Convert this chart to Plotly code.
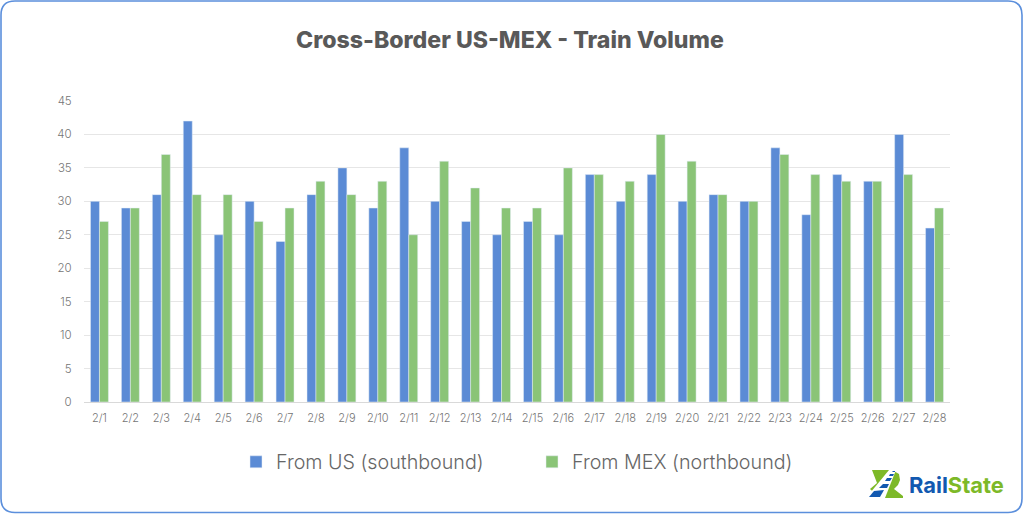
import plotly.graph_objects as go

days = [f"2/{d}" for d in range(1, 29)]
from_us = [30,29,31,42,25,30,24,31,35,29,38,30,27,25,27,25,34,30,34,30,31,30,38,28,34,33,40,26]
from_mex = [27,29,37,31,31,27,29,33,31,33,25,36,32,29,29,35,34,33,40,36,31,30,37,34,33,33,34,29]
y_ticks = [0,5,10,15,20,25,30,35,40,45]

W, H = 1024, 514
def px(x): return x / W
def py(y): return 1 - y / H
BLUE = "#5B8BD5"
GREEN = "#8AC477"
def poly(points, color):
    path = "M" + " L".join(f"{px(x):.5f},{py(y):.5f}" for x, y in points) + " Z"
    return dict(type="path", xref="paper", yref="paper", path=path,
                fillcolor=color, line_width=0, layer="above")

def rounded(x0, y0, x1, y1, r):
    return (f"M{px(x0+r):.5f},{py(y0):.5f} L{px(x1-r):.5f},{py(y0):.5f} "
            f"Q{px(x1):.5f},{py(y0):.5f} {px(x1):.5f},{py(y0+r):.5f} "
            f"L{px(x1):.5f},{py(y1-r):.5f} Q{px(x1):.5f},{py(y1):.5f} {px(x1-r):.5f},{py(y1):.5f} "
            f"L{px(x0+r):.5f},{py(y1):.5f} Q{px(x0):.5f},{py(y1):.5f} {px(x0):.5f},{py(y1-r):.5f} "
            f"L{px(x0):.5f},{py(y0+r):.5f} Q{px(x0):.5f},{py(y0):.5f} {px(x0+r):.5f},{py(y0):.5f} Z")

fig = go.Figure()
fig.add_bar(x=days, y=from_us, name="From US (southbound)", marker_color=BLUE)
fig.add_bar(x=days, y=from_mex, name="From MEX (northbound)", marker_color=GREEN)

LOGO_GREEN = "#7DB928"
LOGO_BLUE = "#1259B0"
shapes = [
    dict(type="path", xref="paper", yref="paper", path=rounded(1, 1, 1022, 512.5, 14),
         line=dict(color="#5B8FDC", width=1.6), fillcolor="rgba(0,0,0,0)", layer="below"),
    # logo
    poly([(872,470),(892,470),(899,474),(900,480),(898,485),(894,489),(903,496),(903,498),
          (880,498),(870,489),(877,483)], LOGO_GREEN),
    poly([(889,470),(896,470),(885,498),(866,498)], "#FFFFFF"),
    poly([(869,497),(880,497),(884,490),(874,491)], LOGO_BLUE),
    poly([(879,488),(887,488),(889,484),(883,484)], LOGO_BLUE),
    poly([(885,481),(890,481),(892,478),(887,478)], LOGO_BLUE),
    poly([(889,476),(893,476),(894,474),(890,474)], LOGO_BLUE),
    poly([(892,472),(895,472),(895,471),(893,471)], LOGO_BLUE),
]

annotations = [
    dict(text="Cross-Border US-MEX - Train Volume", xref="paper", yref="paper",
         x=px(509.5), y=py(40), xanchor="center", yanchor="middle", showarrow=False,
         font=dict(family="Inter", size=23.1, color="#595959", weight=800)),
    dict(text="<b><span style='color:#1259B0'>Rail</span><span style='color:#7DB928'>State</span></b>",
         xref="paper", yref="paper", x=px(907), y=py(485),
         xanchor="left", yanchor="middle", showarrow=False,
         font=dict(family="Inter", size=21.9, color="#1259B0")),
]

fig.update_layout(
    width=W, height=H, margin=dict(l=0, r=0, t=0, b=0, autoexpand=False),
    paper_bgcolor="white", plot_bgcolor="white",
    barmode="group", bargap=0.42, bargroupgap=0,
    font=dict(family="Inter", color="#6E6E6E"),
    shapes=shapes, annotations=annotations,
    legend=dict(orientation="h", x=px(532), y=py(462), xanchor="center", yanchor="middle",
                font=dict(size=19.7, color="#666666", family="Inter", weight=300),
                traceorder="normal", entrywidth=251, entrywidthmode="pixels", itemwidth=30),
    xaxis=dict(domain=[px(84), px(950)], tickfont=dict(size=11, color="#757575", weight=300),
               showline=True, linecolor="#D9D9D9", linewidth=1, ticks="outside", ticklen=6,
               tickcolor="rgba(0,0,0,0)", tickangle=0, fixedrange=True),
    yaxis=dict(domain=[py(402), py(101)], range=[0, 45], tickvals=y_ticks,
               tickfont=dict(size=11.5, color="#757575", weight=300), gridcolor="#E6E6E6", gridwidth=1,
               zeroline=False, ticks="outside", ticklen=9, tickcolor="rgba(0,0,0,0)",
               fixedrange=True),
)
fig.write_html("out.html", config={"displayModeBar": False},
               post_script="document.body.style.margin='0';document.body.style.overflow='hidden';")
